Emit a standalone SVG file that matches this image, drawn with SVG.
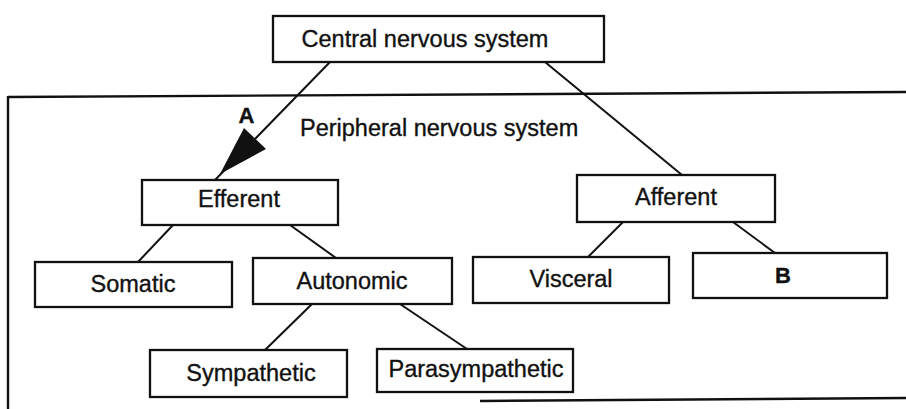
<svg xmlns="http://www.w3.org/2000/svg" width="906" height="409" viewBox="0 0 906 409">
<style>
.box{fill:#fff;stroke:#111;stroke-width:2.3}
.lbl{font-family:"Liberation Sans",Arial,sans-serif;font-size:23.5px;fill:#111;stroke:#111;stroke-width:0.35;text-anchor:middle}
.bold{font-weight:bold;font-size:22px}
.ln{stroke:#111;stroke-width:2;fill:none}
.frame{stroke:#111;stroke-width:2.4;fill:none}
</style>
<rect width="906" height="409" fill="#fff"/>
<g id="pns-frame">
<line class="frame" x1="8" y1="97" x2="906" y2="92"/>
<line class="frame" x1="8" y1="96" x2="8" y2="409"/>
<line class="frame" x1="480" y1="401" x2="906" y2="398"/>
<text class="lbl" x="300" y="136" style="text-anchor:start">Peripheral nervous system</text>
</g>
<g id="connectors">
<line class="ln" x1="330" y1="62" x2="215" y2="180"/>
<polygon points="220,174 244,128 266,149" fill="#111"/>
<line class="ln" x1="545" y1="62" x2="682" y2="175"/>
<line class="ln" x1="173" y1="225" x2="138" y2="262"/>
<line class="ln" x1="290" y1="225" x2="336" y2="258"/>
<line class="ln" x1="623" y1="222" x2="588" y2="257"/>
<line class="ln" x1="733" y1="222" x2="775" y2="253"/>
<line class="ln" x1="312" y1="304" x2="265" y2="350"/>
<line class="ln" x1="400" y1="304" x2="467" y2="349"/>
<text class="lbl bold" x="246.5" y="123">A</text>
</g>
<g id="central">
<rect class="box" x="273" y="16" width="331" height="46"/>
<text class="lbl" x="425" y="47">Central nervous system</text>
</g>
<g id="efferent">
<rect class="box" x="142" y="180" width="196" height="45"/>
<text class="lbl" x="239" y="207">Efferent</text>
</g>
<g id="afferent">
<rect class="box" x="577" y="175" width="198" height="47"/>
<text class="lbl" x="676" y="205">Afferent</text>
</g>
<g id="somatic">
<rect class="box" x="35" y="262" width="197" height="45"/>
<text class="lbl" x="133" y="292">Somatic</text>
</g>
<g id="autonomic">
<rect class="box" x="253" y="258" width="199" height="46"/>
<text class="lbl" x="352" y="289">Autonomic</text>
</g>
<g id="visceral">
<rect class="box" x="473" y="257" width="196" height="46"/>
<text class="lbl" x="571" y="287">Visceral</text>
</g>
<g id="b">
<rect class="box" x="693" y="253" width="194" height="45"/>
<text class="lbl bold" x="783" y="283">B</text>
</g>
<g id="sympathetic">
<rect class="box" x="150" y="350" width="197" height="47"/>
<text class="lbl" x="251" y="381">Sympathetic</text>
</g>
<g id="parasympathetic">
<rect class="box" x="377" y="349" width="196" height="43"/>
<text class="lbl" x="476" y="377">Parasympathetic</text>
</g>
</svg>
